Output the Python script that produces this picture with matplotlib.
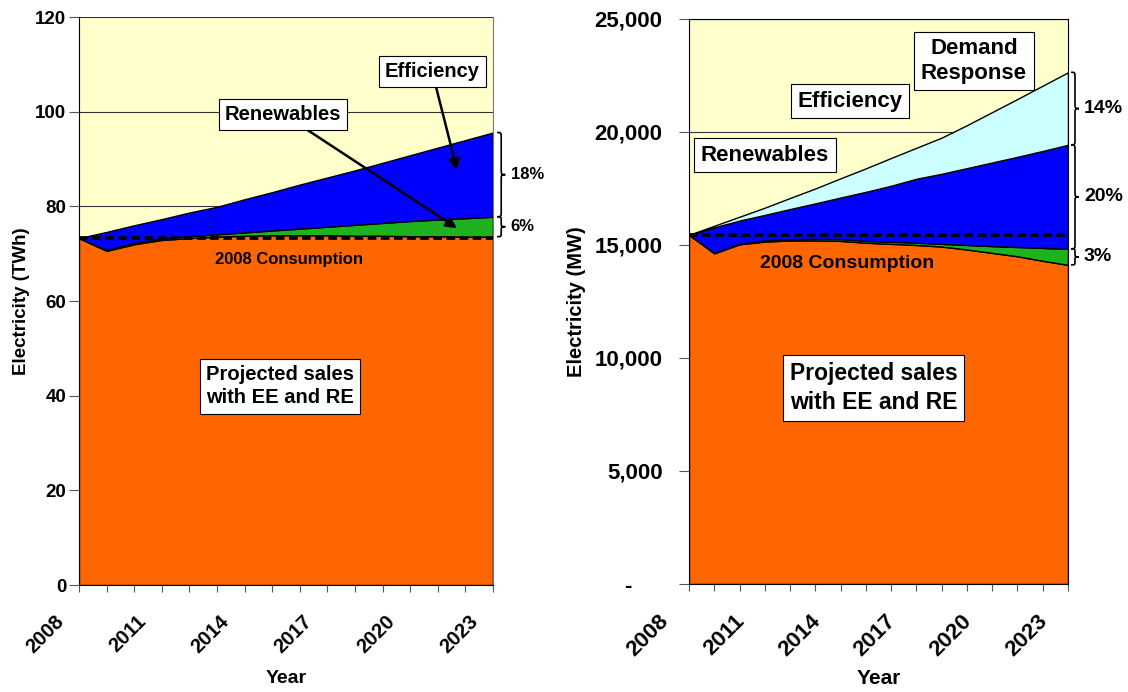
import numpy as np
import matplotlib.pyplot as plt
import matplotlib.transforms as mtransforms
from matplotlib.path import Path
from matplotlib.patches import PathPatch

plt.rcParams['font.family'] = ['Liberation Sans', 'DejaVu Sans']
plt.rcParams['font.weight'] = 'bold'

years = np.arange(2008, 2024)

# left panel, energy (TWh)
twh_sales = [73.3, 70.6, 72.0, 72.9, 73.3, 73.6, 73.8, 73.9, 73.9, 73.9, 73.8, 73.8, 73.7, 73.7, 73.6, 73.6]
twh_renew = [0.0, 0.2, 0.3, 0.3, 0.4, 0.5, 0.7, 1.0, 1.4, 1.8, 2.3, 2.7, 3.2, 3.5, 3.9, 4.2]
twh_eff = [0.0, 3.8, 3.7, 4.1, 5.0, 5.8, 7.0, 8.1, 9.3, 10.4, 11.5, 12.7, 13.9, 15.2, 16.5, 17.8]
twh_2008 = 73.3
twh_pct = ['18%', '6%']

# right panel, peak demand (MW)
mw_sales = [15450, 14630, 15030, 15150, 15200, 15200, 15180, 15100, 15050, 15000, 14930, 14800, 14650, 14500, 14300, 14120]
mw_renew = [0, 20, 30, 50, 60, 70, 80, 80, 90, 100, 120, 200, 300, 410, 570, 710]
mw_eff = [0, 1130, 1020, 1130, 1330, 1570, 1840, 2170, 2480, 2830, 3100, 3400, 3700, 3990, 4290, 4600]
mw_dr = [0, 70, 170, 320, 490, 660, 850, 1040, 1230, 1370, 1600, 1900, 2230, 2560, 2890, 3210]
mw_2008 = 15450
mw_pct = ['14%', '20%', '3%']

ORANGE = '#FF6600'
GREEN = '#1FB21F'
BLUE = '#0000FF'
CYAN = '#CCFFFF'
YELLOW = '#FFFFCC'


def brace(ax, y0, y1, x0, w, text, fs):
    trans = mtransforms.blended_transform_factory(ax.transAxes, ax.transData)
    ppu = ax.transData.transform((0, 1))[1] - ax.transData.transform((0, 0))[1]
    d = min(abs(y1 - y0) * 0.22, 6 / ppu)
    ym = (y0 + y1) / 2
    xm = x0 + w / 2
    verts = [(x0, y1), (xm, y1), (xm, y1), (xm, y1 - d),
             (xm, ym + d),
             (xm, ym), (xm, ym), (x0 + w, ym),
             (xm, ym), (xm, ym), (xm, ym - d),
             (xm, y0 + d),
             (xm, y0), (xm, y0), (x0, y0)]
    codes = [Path.MOVETO, Path.CURVE4, Path.CURVE4, Path.CURVE4,
             Path.LINETO,
             Path.CURVE4, Path.CURVE4, Path.CURVE4,
             Path.CURVE4, Path.CURVE4, Path.CURVE4,
             Path.LINETO,
             Path.CURVE4, Path.CURVE4, Path.CURVE4]
    ax.add_patch(PathPatch(Path(verts, codes), transform=trans, fill=False,
                           lw=1.2, ec='black', clip_on=False))
    ax.text(x0 + w + 0.013, ym, text, transform=trans, ha='left', va='center',
            fontsize=fs, fontweight='bold', clip_on=False)


def style(ax, ymax, ystep, fs_tick, fs_x, dx):
    ax.set_facecolor(YELLOW)
    ax.set_xlim(2008, 2023)
    ax.set_ylim(0, ymax)
    ax.set_yticks(np.arange(0, ymax + 1, ystep))
    ax.set_axisbelow(True)
    ax.grid(axis='y', color='#333333', lw=0.8)
    ax.set_xticks(years)
    ax.set_xticklabels([str(y) if (y - 2008) % 3 == 0 else '' for y in years],
                       rotation=45, ha='right', va='top', rotation_mode='anchor',
                       fontsize=fs_x, fontweight='bold')
    ax.tick_params(axis='x', length=5, color='#555555', pad=14)
    ax.tick_params(axis='y', length=7, color='#555555', labelsize=fs_tick)
    off = mtransforms.ScaledTranslation(dx / 100, 0, ax.figure.dpi_scale_trans)
    for lab in ax.xaxis.get_majorticklabels():
        lab.set_transform(lab.get_transform() + off)
    box = dict(boxstyle='square,pad=0.3', fc='white', ec='black', lw=0.8)
    return box


fig = plt.figure(figsize=(11.28, 6.92), dpi=100)

# ---- left: TWh ----
ax1 = fig.add_axes([0.0700, 0.1546, 0.3670, 0.8208])
ax1.stackplot(years, twh_sales, twh_renew, twh_eff,
              colors=[ORANGE, GREEN, BLUE], edgecolor='black', linewidth=1)
ax1.plot(years, [twh_2008] * len(years), color='black', lw=2.7, dashes=(2.3, 1.2))
box = style(ax1, 120, 20, 13.5, 14.5, -25)
ax1.tick_params(axis='y', pad=2)
ax1.spines['top'].set_visible(False)
ax1.spines['right'].set_color('#777777')
ax1.set_ylabel('Electricity (TWh)', fontsize=13.5, fontweight='bold', labelpad=4)
ax1.set_xlabel('Year', fontsize=14, fontweight='bold', labelpad=10)

ax1.annotate('Efficiency', xy=(2021.7, 87.7), xytext=(2020.8, 108.4),
             ha='center', va='center', fontsize=14.5, fontweight='bold', bbox=box,
             arrowprops=dict(arrowstyle='-|>', color='black', lw=1.8, mutation_scale=16,
                             shrinkA=0, shrinkB=0))
ax1.annotate('Renewables', xy=(2021.7, 75.4), xytext=(2015.4, 99.5),
             ha='center', va='center', fontsize=14.5, fontweight='bold', bbox=box,
             arrowprops=dict(arrowstyle='-|>', color='black', lw=1.8, mutation_scale=16,
                             shrinkA=0, shrinkB=0))
ax1.text(2015.6, 68.7, '2008 Consumption', ha='center', va='center',
         fontsize=12, fontweight='bold')
ax1.text(2015.3, 42, 'Projected sales\nwith EE and RE', ha='center', va='center',
         fontsize=14.5, fontweight='bold', bbox=box, linespacing=1.3)

t_sales = twh_sales[-1]
t_ren = t_sales + twh_renew[-1]
t_eff = t_ren + twh_eff[-1]
brace(ax1, t_ren, t_eff, 1.01, 0.02, twh_pct[0], 12)
brace(ax1, t_sales, t_ren, 1.01, 0.02, twh_pct[1], 12)

# ---- right: MW ----
ax2 = fig.add_axes([0.6108, 0.1561, 0.3360, 0.8165])
ax2.stackplot(years, mw_sales, mw_renew, mw_eff, mw_dr,
              colors=[ORANGE, GREEN, BLUE, CYAN], edgecolor='black', linewidth=1)
ax2.plot(years, [mw_2008] * len(years), color='black', lw=2.7, dashes=(2.3, 1.2))
box = style(ax2, 25000, 5000, 16, 16, -31)
ax2.set_yticklabels(['-     '] + [f'{v:,}' for v in range(5000, 25001, 5000)])
ax2.tick_params(axis='y', pad=12)
ax2.set_ylabel('Electricity (MW)', fontsize=14.5, fontweight='bold', labelpad=6)
ax2.set_xlabel('Year', fontsize=15, fontweight='bold', labelpad=6)

ax2.text(2019.28, 23140, 'Demand\nResponse', ha='center', va='center',
         fontsize=16, fontweight='bold', bbox=box, linespacing=1.2)
ax2.text(2014.37, 21370, 'Efficiency', ha='center', va='center',
         fontsize=16, fontweight='bold', bbox=box)
ax2.text(2011.0, 18980, 'Renewables', ha='center', va='center',
         fontsize=16, fontweight='bold', bbox=box)
ax2.text(2014.25, 14200, '2008 Consumption', ha='center', va='center',
         fontsize=14, fontweight='bold')
ax2.text(2015.3, 8670, 'Projected sales\nwith EE and RE', ha='center', va='center',
         fontsize=16.5, fontweight='bold', bbox=box, linespacing=1.3)

m_sales = mw_sales[-1]
m_ren = m_sales + mw_renew[-1]
m_eff = m_ren + mw_eff[-1]
m_dr = m_eff + mw_dr[-1]
brace(ax2, m_eff, m_dr, 1.008, 0.021, mw_pct[0], 14)
brace(ax2, m_ren, m_eff, 1.008, 0.021, mw_pct[1], 14)
brace(ax2, m_sales, m_ren, 1.008, 0.021, mw_pct[2], 14)

fig.savefig('out.png', dpi=100)
